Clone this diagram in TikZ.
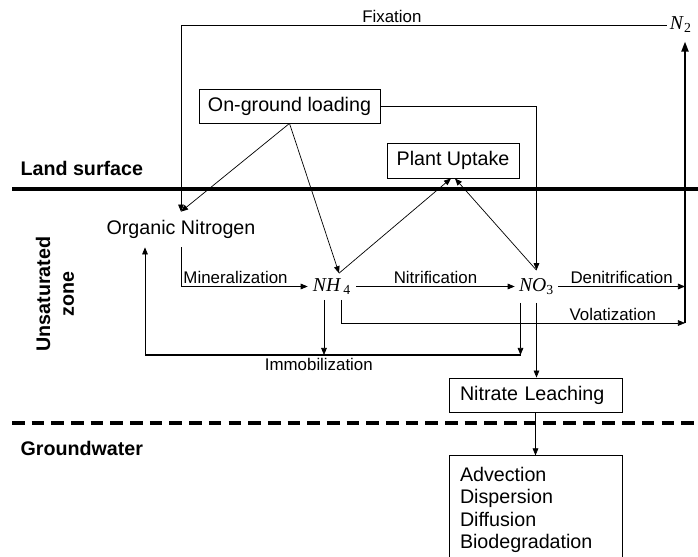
\documentclass[tikz,border=0pt]{standalone}
\usepackage{fontspec}
\setmainfont{Liberation Sans}
\newfontfamily\chemfont{Liberation Serif}
\usetikzlibrary{arrows.meta, positioning, calc}

\newcommand{\chem}[2]{{\chemfont\textit{#1}\textsubscript{#2}}}

\begin{document}
\begin{tikzpicture}[>={Triangle[length=5pt,width=4pt]},
  box/.style={draw, line width=0.6pt, font=\fontsize{14}{16}\selectfont, minimum height=0.85cm},
  flow/.style={->, line width=0.5pt},
  lbl/.style={font=\fontsize{12}{14}\selectfont, inner sep=1.5pt},
  zone/.style={font=\fontsize{14}{17}\selectfont\bfseries},
  species/.style={font=\fontsize{14}{16}\selectfont, inner sep=0pt}]
  \useasboundingbox (0,0) rectangle (17.45,-13.925);

  % Layers
  \draw[line width=2.5pt] (0.3,-4.725) -- (17.45,-4.725);
  \draw[line width=2.2pt, dash pattern=on 9pt off 5pt] (0.3,-10.575) -- (17.45,-10.575);
  \node[zone, anchor=west] (land) at (0.39,-4.2) {Land surface};
  \node[zone, align=center, rotate=90] (unsat) at (1.375,-7.35) {Unsaturated\\zone};
  \node[zone, anchor=west] (ground) at (0.39,-11.2) {Groundwater};

  % Pools and processes
  \node[box, minimum width=4.525cm] (ongl) at (7.2375,-2.65) {On-ground loading};
  \node[box, minimum width=3.3cm, minimum height=0.875cm] (plant) at (11.325,-4.0125) {Plant Uptake};
  \node[font=\fontsize{14}{16}\selectfont, inner sep=6pt] (orgN) at (4.525,-5.7375) {Organic Nitrogen};
  \node[species, minimum width=1.2cm, minimum height=0.65cm] (nh4) at (8.3,-7.1625) {\chem{NH}{\,4}};
  \node[species, minimum width=1.075cm, minimum height=0.8cm] (no3) at (13.4125,-7.1625) {\chem{NO}{3}};
  \node[species, inner xsep=2pt, inner ysep=6pt] (n2) at (17.02,-0.625) {\chem{N}{2}};
  \node[box, text width=3.775cm, inner xsep=0.275cm, align=left] (nitrate) at (13.3875,-9.875) {Nitrate Leaching};
  \node[box, text width=3.775cm, inner sep=0.275cm, align=left, below=1.075cm of nitrate] (advect) {Advection\\Dispersion\\Diffusion\\Biodegradation};

  % Helper points
  \coordinate (gasend) at (17.125,-8.075);
  \coordinate (immobL) at (3.625,-8.875);
  \coordinate (nh4a) at ($(nh4.south)+(-0.2,0)$);
  \coordinate (nh4b) at ($(nh4.south)+(0.225,0)$);
  \coordinate (no3a) at ($(no3.south)+(-0.4,0)$);

  % Fluxes
  \draw[flow] (n2.west) -| node[lbl, pos=0.283, above] {Fixation} (orgN.north);
  \draw[flow] (ongl.south) -- (orgN.north);
  \draw[flow] (ongl.south) -- ($(nh4.north)+(0.175,0)$);
  \draw[flow] (ongl.east) -| (no3.north);
  \draw[flow] ($(nh4.north)+(0.175,0)$) -- ($(plant.south)+(-0.05,0)$);
  \draw[flow] (no3.north) -- ($(plant.south)+(0.05,0)$);
  \draw[flow] (orgN.south) |- node[lbl, pos=0.5, above right] {Mineralization} (nh4.west);
  \draw[flow] (nh4.east) -- node[lbl, above] {Nitrification} (nh4.east -| no3.west);
  \draw[flow] (no3.east) -- node[lbl, above] {Denitrification} (no3.east -| gasend);
  \draw[flow] (nh4b) |- node[lbl, pos=0.895, above] {Volatization} (gasend);
  \draw[-{Triangle[length=7pt,width=5pt]}, line width=1.2pt] (gasend) -- (gasend |- n2.south);

  % Immobilization
  \draw[line width=1.5pt] (no3a |- immobL) -- node[lbl, below, pos=0.537] {Immobilization} (immobL);
  \draw[flow] (nh4a) -- (nh4a |- immobL);
  \draw[flow] (no3a) -- (no3a |- immobL);
  \draw[flow] (immobL) -- (immobL |- orgN.south);

  % Leaching
  \draw[flow] (no3.south) -- (no3.south |- nitrate.north);
  \draw[flow] (nitrate.south) -- (advect.north);
\end{tikzpicture}
\end{document}
